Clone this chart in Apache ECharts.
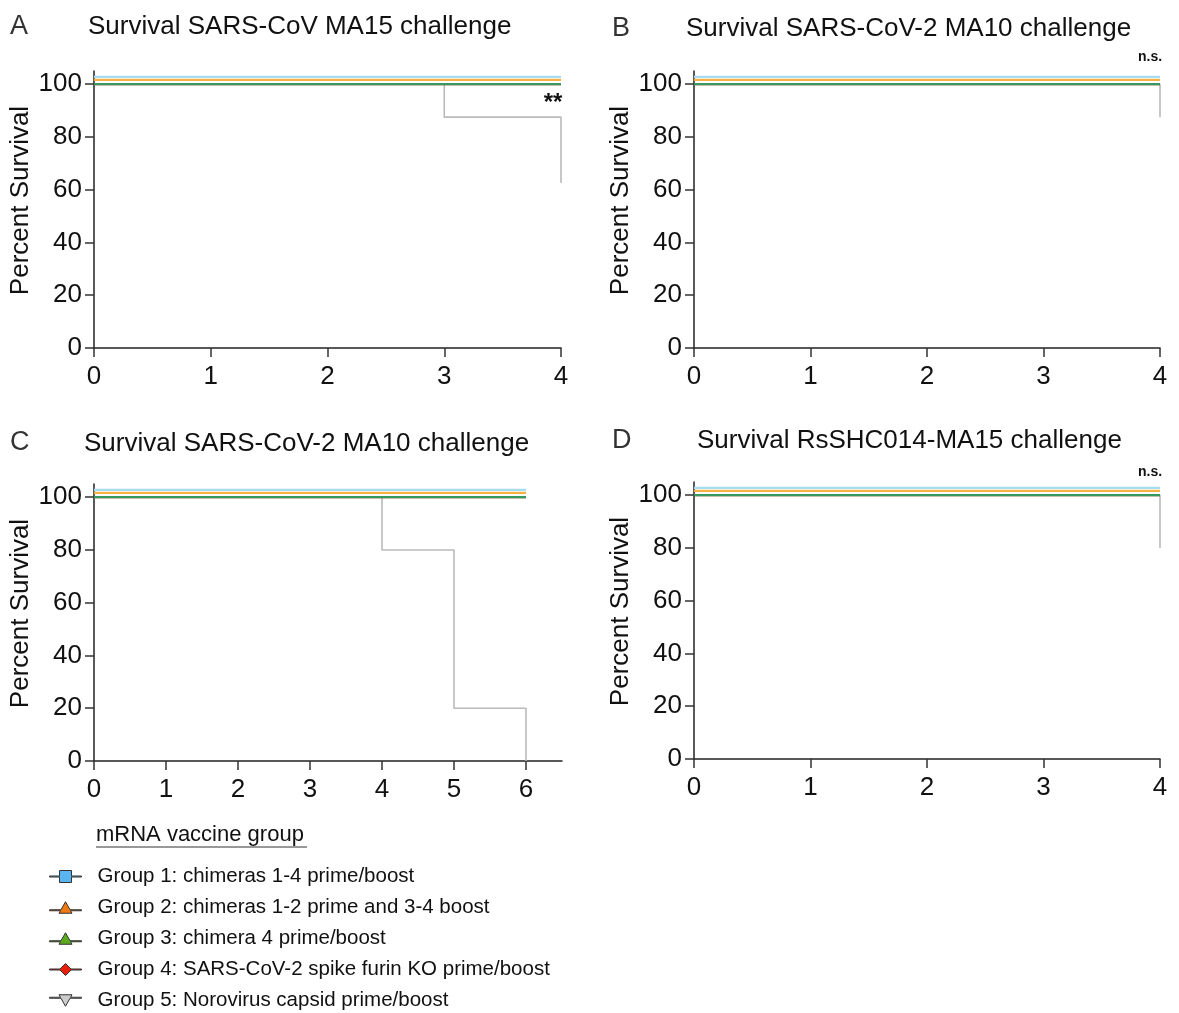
<!DOCTYPE html>
<html>
<head>
<meta charset="utf-8">
<script src="https://cdn.jsdelivr.net/npm/echarts@6/dist/echarts.min.js"></script>
<style>
  html, body { margin: 0; padding: 0; background: #fff; }
  #chart { width: 1179px; height: 1013px; }
</style>
</head>
<body>
<div id="chart"></div>
<script>
// legend / group names
const groupNames = [
  'Group 1: chimeras 1-4 prime/boost',
  'Group 2: chimeras 1-2 prime and 3-4 boost',
  'Group 3: chimera 4 prime/boost',
  'Group 4: SARS-CoV-2 spike furin KO prime/boost',
  'Group 5: Norovirus capsid prime/boost'
]
const panelLetters = ['A', 'B', 'C', 'D']
const panelTitles = [
  'Survival SARS-CoV MA15 challenge',
  'Survival SARS-CoV-2 MA10 challenge',
  'Survival SARS-CoV-2 MA10 challenge',
  'Survival RsSHC014-MA15 challenge'
]
const panelNotes = ['**', 'n.s.', '', 'n.s.']

// follow-up end (days) per panel, and x tick labels
const lastDay = [4, 4, 6, 4]
const xMax = [4, 4, 6.5, 4]
const xTicksShort = [0, 1, 2, 3, 4]
const xTicksLong = [0, 1, 2, 3, 4, 5, 6]
const yTicks = [0, 20, 40, 60, 80, 100]

// groups 1-4 survive 100% everywhere
const fullSurvival = 100

// group 5 (Norovirus capsid) Kaplan-Meier steps
const g5DaysA = [0, 3, 4]
const g5SurvA = [100, 87.5, 62.5]
const g5DaysB = [0, 4]
const g5SurvB = [100, 87.5]
const g5DaysC = [0, 4, 5, 6]
const g5SurvC = [100, 80, 20, 0]
const g5DaysD = [0, 4]
const g5SurvD = [100, 80]
const g5Days = [g5DaysA, g5DaysB, g5DaysC, g5DaysD]
const g5Surv = [g5SurvA, g5SurvB, g5SurvC, g5SurvD]

// little vertical nudge so overlapping 100% lines stay visible (like Prism)
const nudge = [2.8, 1.6, 0, 0, 0]
const lineColors = ['#a6dcf3', '#f5b243', '#34995e', '#e0301e', '#bababa']
const lineWidths = [2.2, 2.2, 2.2, 2, 1.6]

const font = 'Liberation Sans, Arial, sans-serif'

const grids = [
  { left: 94, top: 71, width: 467, height: 277 },
  { left: 694, top: 71, width: 466, height: 277 },
  { left: 94, top: 484, width: 468, height: 277 },
  { left: 694, top: 482, width: 466, height: 277 }
]

let xAxes = []
let yAxes = []
let series = []
grids.forEach((g, i) => {
  let ticks = i === 2 ? xTicksLong : xTicksShort
  xAxes.push({
    type: 'value', gridIndex: i, min: 0, max: xMax[i],
    axisLine: { show: true, onZero: false, lineStyle: { color: '#222', width: 1.5 } },
    axisTick: { show: true, length: 9, customValues: ticks, lineStyle: { color: '#333', width: 1.5 } },
    axisLabel: { customValues: ticks, fontSize: 26, color: '#111', margin: 16, fontFamily: font },
    splitLine: { show: false }
  })
  yAxes.push({
    type: 'value', gridIndex: i, min: 0, max: 105,
    name: 'Percent Survival', nameLocation: 'middle', nameGap: 60,
    nameTextStyle: { fontSize: 26, color: '#111', fontFamily: font, padding: [0, 0, 0, 18] },
    axisLine: { show: true, lineStyle: { color: '#222', width: 1.5 } },
    axisTick: { show: true, length: 9, customValues: yTicks, lineStyle: { color: '#333', width: 1.5 } },
    axisLabel: { customValues: yTicks, fontSize: 26, color: '#111', margin: 12, fontFamily: font },
    splitLine: { show: false }
  })
  // draw gray first so the vaccine groups sit on top
  for (let k = 4; k >= 0; k--) {
    let pts
    if (k === 4) {
      pts = g5Days[i].map((d, j) => [d, g5Surv[i][j]])
    } else {
      pts = [[0, fullSurvival + nudge[k]], [lastDay[i], fullSurvival + nudge[k]]]
    }
    series.push({
      name: groupNames[k],
      type: 'line',
      xAxisIndex: i,
      yAxisIndex: i,
      step: 'end',
      symbol: 'none',
      data: pts,
      lineStyle: { color: lineColors[k], width: lineWidths[k] },
      itemStyle: { color: lineColors[k] },
      z: 5 - k,
      silent: true
    })
  }
})

const titles = []
panelLetters.forEach((l, i) => {
  const pos = [[10, 13], [612, 15], [10, 429], [612, 427]][i]
  titles.push({ text: l, left: pos[0], top: pos[1], padding: 0,
    textStyle: { fontSize: 27, fontWeight: 'normal', color: '#333', fontFamily: font } })
})
panelTitles.forEach((t, i) => {
  const pos = [[88, 14], [686, 16], [84, 431], [697, 428]][i]
  titles.push({ text: t, left: pos[0], top: pos[1], padding: 0,
    textStyle: { fontSize: 26, fontWeight: 'normal', color: '#111', fontFamily: font } })
})

// legend icons: a short line with the group's marker in the middle
const legendIcons = [
  'path://M0,7.5H10V2H22V7.5H32V8.5H22V14H10V8.5H0Z',
  'path://M0,10H11.48L16,2L20.52,10H32V11H21.09L22.5,13.5H9.5L10.91,11H0Z',
  'path://M0,10H11.48L16,2L20.52,10H32V11H21.09L22.5,13.5H9.5L10.91,11H0Z',
  'path://M0,7.5H10.5L16,2L21.5,7.5H32V8.5H21.5L16,14L10.5,8.5H0Z',
  'path://M0,5H10.91L9.5,2.5H22.5L21.09,5H32V6H20.52L16,14L11.48,6H0Z'
]
const markerFill = ['#5ab4ef', '#f07a10', '#5aaa1e', '#e8200a', '#cccccc']

const notePos = [[553, 103], [1150, 57], [0, 0], [1150, 472]]
const graphics = []
panelNotes.forEach((n, i) => {
  if (!n) return
  graphics.push({
    type: 'text', x: notePos[i][0], y: notePos[i][1],
    style: { text: n, font: (n === '**' ? 'bold 24px ' : 'bold 14px ') + font,
      fill: '#111', textAlign: 'center', textVerticalAlign: 'middle' }
  })
})
graphics.push({
  type: 'text', x: 96, y: 835,
  style: { text: 'mRNA vaccine group', font: '22px ' + font, fill: '#111', textVerticalAlign: 'middle' }
})
graphics.push({
  type: 'line', shape: { x1: 96, y1: 847, x2: 307, y2: 847 },
  style: { stroke: '#333', lineWidth: 1 }
})

const option = {
  animation: false,
  backgroundColor: '#fff',
  title: titles,
  grid: grids,
  xAxis: xAxes,
  yAxis: yAxes,
  series: series,
  legend: {
    orient: 'vertical',
    left: 49,
    top: 866,
    height: 160,
    padding: 0,
    itemWidth: 32,
    itemHeight: 16,
    itemGap: 10,
    selectedMode: false,
    data: groupNames.map((n, k) => ({
      name: n,
      icon: legendIcons[k],
      itemStyle: { color: markerFill[k], borderColor: '#333', borderWidth: 1 }
    })),
    textStyle: { fontSize: 20.5, color: '#111', fontFamily: font, padding: [0, 0, 0, 11], lineHeight: 20 }
  },
  graphic: graphics
}

const chart = echarts.init(document.getElementById('chart'))
chart.setOption(option)
window.addEventListener('resize', () => chart.resize())
</script>
</body>
</html>
